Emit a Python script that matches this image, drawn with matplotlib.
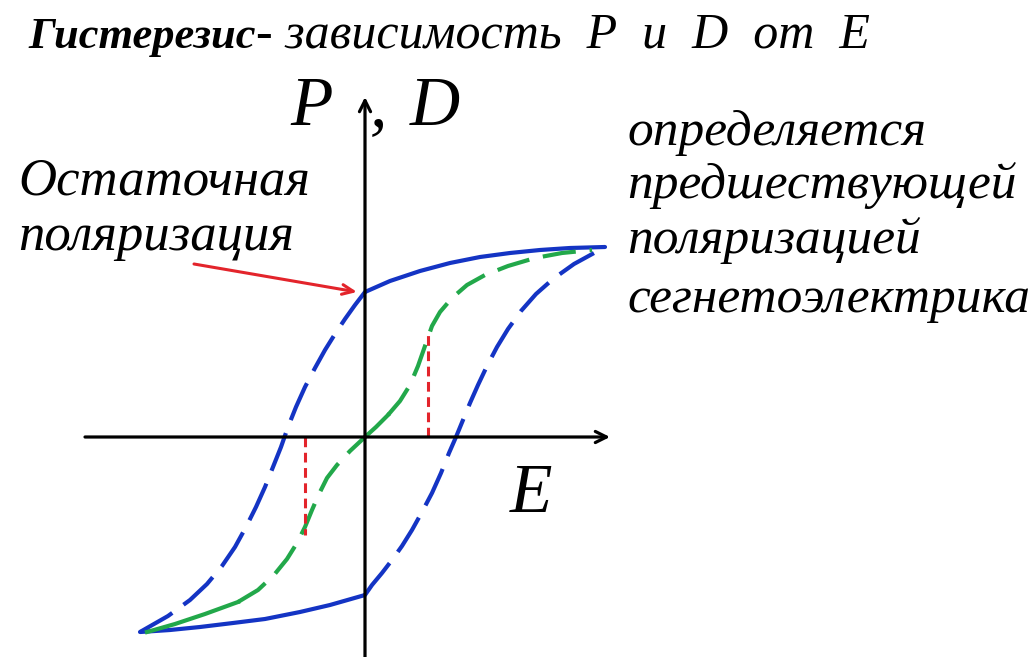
import matplotlib
matplotlib.use('Agg')
import matplotlib.pyplot as plt

plt.rcParams['font.family'] = ['Liberation Serif', 'DejaVu Serif']
plt.rcParams['lines.scale_dashes'] = False

# outer hysteresis loop, E and P in arbitrary units (origin where the axes cross)
# descending branch: solid part from +saturation to the remanent polarization
desc_solid_E = [2.40, 2.05, 1.75, 1.45, 1.15, 0.85, 0.55, 0.25, 0.00]
desc_solid_P = [1.90, 1.89, 1.87, 1.84, 1.80, 1.74, 1.66, 1.56, 1.45]
# descending branch: dashed part down to -saturation
desc_dash_E = [0.00, -0.10, -0.20, -0.30, -0.40, -0.50, -0.60, -0.69, -0.77, -0.84,
               -0.92, -1.00, -1.09, -1.19, -1.30, -1.43, -1.58, -1.75, -1.97, -2.25]
desc_dash_P = [1.45, 1.32, 1.18, 1.03, 0.87, 0.69, 0.50, 0.30, 0.10, -0.10,
               -0.30, -0.50, -0.70, -0.90, -1.10, -1.29, -1.47, -1.63, -1.79, -1.95]
# ascending branch: solid part
asc_solid_E = [-2.25, -1.95, -1.65, -1.32, -1.00, -0.65, -0.35, 0.00]
asc_solid_P = [-1.95, -1.93, -1.90, -1.86, -1.82, -1.75, -1.68, -1.58]
# ascending branch: dashed part
asc_dash_E = [0.00, 0.07, 0.17, 0.27, 0.37, 0.47, 0.57, 0.67, 0.76, 0.84, 0.91,
              0.98, 1.05, 1.13, 1.22, 1.32, 1.43, 1.56, 1.71, 1.88, 2.09, 2.40]
asc_dash_P = [-1.58, -1.48, -1.36, -1.23, -1.09, -0.93, -0.75, -0.56, -0.36, -0.16, 0.00,
              0.17, 0.34, 0.52, 0.71, 0.90, 1.08, 1.26, 1.43, 1.58, 1.73, 1.90]

# green curve through the origin
green_low_solid_E = [-2.18, -1.90, -1.60, -1.27]
green_low_solid_P = [-1.95, -1.87, -1.77, -1.65]
green_low_dash_E = [-1.27, -1.07, -0.91, -0.78, -0.68, -0.60, -0.53, -0.46, -0.38, -0.28, -0.15, 0.00]
green_low_dash_P = [-1.65, -1.53, -1.38, -1.22, -1.06, -0.90, -0.73, -0.57, -0.41, -0.28, -0.14, 0.00]
green_mid_solid_E = [0.00, 0.11, 0.23]
green_mid_solid_P = [0.00, 0.10, 0.22]
green_up_dash_E = [0.23, 0.35, 0.45, 0.53, 0.60, 0.67, 0.75, 0.87, 1.02, 1.20, 1.43, 1.70, 1.97, 2.27]
green_up_dash_P = [0.22, 0.36, 0.52, 0.71, 0.91, 1.11, 1.25, 1.39, 1.52, 1.62, 1.71, 1.79, 1.84, 1.87]

# red dashed verticals (E position, P end)
red_E = [0.63, -0.60]
red_P = [1.02, -0.98]

BLUE = '#1434c4'
GREEN = '#22a84a'
RED = '#e3242b'

W, H = 1028, 657
fig = plt.figure(figsize=(W / 100, H / 100), dpi=100)
ax = fig.add_axes([0, 0, 1, 1])
ax.set_xlim(-3.65, 6.63)
ax.set_ylim(-2.20, 4.37)
ax.axis('off')


def fx(px):
    return px / W


def fy(py):
    return 1 - py / H


# axes with arrows
ax.annotate('', xy=(2.45, 0), xytext=(-2.80, 0),
            arrowprops=dict(arrowstyle='->,head_length=0.8,head_width=0.4', lw=2.3,
                            color='black', shrinkA=0, shrinkB=0))
ax.annotate('', xy=(0, 3.40), xytext=(0, -2.25),
            arrowprops=dict(arrowstyle='->,head_length=0.8,head_width=0.4', lw=2.3,
                            color='black', shrinkA=0, shrinkB=0))

kw = dict(lw=3, solid_joinstyle='round', dash_joinstyle='round')

# outer loop
ax.plot(desc_solid_E, desc_solid_P, color=BLUE, solid_capstyle='round', **kw)
ax.plot(desc_dash_E, desc_dash_P, color=BLUE, dashes=(29, 10), **kw)
ax.plot(asc_solid_E, asc_solid_P, color=BLUE, solid_capstyle='round', **kw)
ax.plot(asc_dash_E, asc_dash_P, color=BLUE, dashes=(29, 10), **kw)

# green curve
ax.plot(green_low_solid_E, green_low_solid_P, color=GREEN, **kw)
ax.plot(green_low_dash_E, green_low_dash_P, color=GREEN, dashes=(24, 10), **kw)
ax.plot(green_mid_solid_E, green_mid_solid_P, color=GREEN, **kw)
ax.plot(green_up_dash_E, green_up_dash_P, color=GREEN, dashes=(24, 10), **kw)

# red dashed verticals
for e, p in zip(red_E, red_P):
    ax.plot([e, e], [0, p], color=RED, lw=2.2, dashes=(7, 4))

# remanent polarization arrow
ax.annotate('', xy=(-0.08, 1.45), xytext=(-1.71, 1.73),
            arrowprops=dict(arrowstyle='->,head_length=0.8,head_width=0.35', lw=2.2,
                            color=RED, shrinkA=0, shrinkB=0))

# title
t1 = fig.text(fx(28), fy(48), 'Гистерезис', fontsize=32, fontweight='bold',
              fontstyle='italic', va='baseline', ha='left')
fig.canvas.draw()
bb = t1.get_window_extent()
fig.text(bb.x1 / W, fy(48), '- зависимость\u2002P\u2002и\u2002D\u2002от\u2002E', fontsize=36,
         fontstyle='italic', va='baseline', ha='left')

# axis labels
fig.text(fx(290), fy(125), 'P', fontsize=50, fontstyle='italic', va='baseline')
fig.text(fx(370), fy(125), ',', fontsize=50, fontstyle='italic', va='baseline')
fig.text(fx(410), fy(125), 'D', fontsize=50, fontstyle='italic', va='baseline')
fig.text(fx(510), fy(512), 'E', fontsize=50, fontstyle='italic', va='baseline')

# left annotation
fig.text(fx(18), fy(195), 'Остаточная', fontsize=38, fontstyle='italic', va='baseline')
fig.text(fx(18), fy(250), 'поляризация', fontsize=38, fontstyle='italic', va='baseline')

# right annotation
right_lines = ['определяется', 'предшествующей', 'поляризацией', 'сегнетоэлектрика']
right_base = [145, 198, 253, 312]
for s, b in zip(right_lines, right_base):
    fig.text(fx(627), fy(b), s, fontsize=37, fontstyle='italic', va='baseline')

fig.savefig('out.png', dpi=100)
